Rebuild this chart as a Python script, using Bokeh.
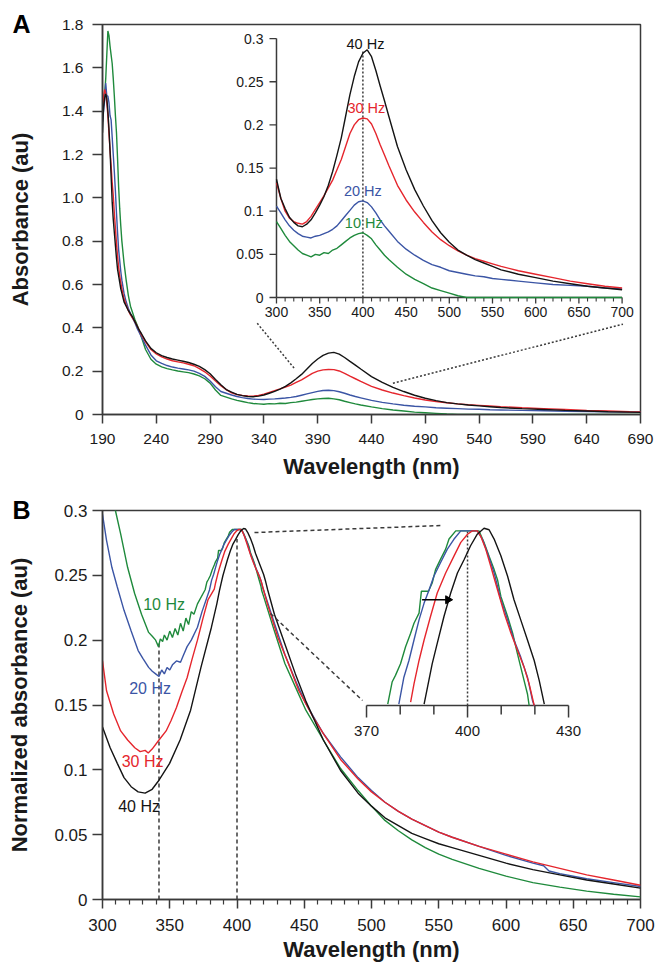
import math
from bokeh.plotting import figure
from bokeh.models import Range1d, FixedTicker, Title
from bokeh.layouts import column
from bokeh.core.properties import value
from bokeh.embed import file_html
from bokeh.resources import INLINE

# ---------------- DATA : panel A (absorbance) ----------------
SERIES = ["10 Hz", "20 Hz", "30 Hz", "40 Hz"]

A_WAVELENGTH = [
    190, 191, 192, 193, 194, 195, 196, 197, 198, 199,
    200, 201, 202, 203, 204, 205, 206, 207, 208, 210,
    212, 214, 216, 218, 220, 222, 224, 226, 230, 235,
    240, 245, 250, 255, 260, 265, 270, 275, 280, 285,
    290, 295, 300, 305, 310, 315, 320, 325, 330, 335,
    340, 345, 350, 355, 360, 365, 370, 375, 380, 385,
    390, 395, 400, 405, 410, 415, 420, 425, 430, 440,
    450, 460, 470, 480, 490, 500, 510, 520, 530, 540,
    550, 560, 580, 600, 620, 640, 660, 680, 700]

A_ABS_10HZ = [
    1.40, 1.44, 1.48, 1.55, 1.66, 1.77, 1.75, 1.70, 1.66, 1.62,
    1.55, 1.47, 1.38, 1.30, 1.18, 1.05, 0.95, 0.87, 0.80, 0.70,
    0.62, 0.55, 0.50, 0.47, 0.44, 0.415, 0.39, 0.36, 0.30, 0.255,
    0.232, 0.220, 0.212, 0.206, 0.201, 0.197, 0.193, 0.187, 0.178, 0.165,
    0.145, 0.113, 0.088, 0.080, 0.072, 0.065, 0.060, 0.055, 0.051, 0.049,
    0.047, 0.050, 0.049, 0.052, 0.051, 0.055, 0.057, 0.061, 0.065, 0.069,
    0.072, 0.074, 0.075, 0.072, 0.068, 0.061, 0.055, 0.049, 0.044, 0.035,
    0.027, 0.021, 0.016, 0.011, 0.008, 0.005, 0.002, 0.000, 0.000, 0.000,
    0.000, 0.000, 0.000, 0.000, 0.000, 0.000, 0.000, 0.000, 0.000]

A_ABS_20HZ = [
    1.35, 1.40, 1.45, 1.53, 1.47, 1.47, 1.44, 1.38, 1.36, 1.28,
    1.20, 1.12, 1.03, 0.93, 0.84, 0.76, 0.71, 0.66, 0.62, 0.56,
    0.52, 0.49, 0.465, 0.445, 0.425, 0.40, 0.38, 0.36, 0.32, 0.275,
    0.248, 0.236, 0.226, 0.219, 0.214, 0.210, 0.206, 0.200, 0.190, 0.176,
    0.155, 0.128, 0.106, 0.098, 0.090, 0.083, 0.078, 0.074, 0.071, 0.070,
    0.069, 0.071, 0.072, 0.074, 0.076, 0.079, 0.083, 0.089, 0.095, 0.101,
    0.107, 0.111, 0.112, 0.110, 0.105, 0.098, 0.090, 0.083, 0.077, 0.065,
    0.056, 0.049, 0.043, 0.038, 0.035, 0.031, 0.029, 0.027, 0.025, 0.024,
    0.022, 0.021, 0.019, 0.017, 0.015, 0.014, 0.013, 0.011, 0.010]

A_ABS_30HZ = [
    1.40, 1.47, 1.50, 1.48, 1.44, 1.38, 1.30, 1.22, 1.15, 1.07,
    1.01, 0.93, 0.86, 0.79, 0.73, 0.68, 0.64, 0.61, 0.58, 0.535,
    0.505, 0.48, 0.46, 0.445, 0.43, 0.41, 0.39, 0.37, 0.335, 0.30,
    0.280, 0.266, 0.256, 0.248, 0.243, 0.238, 0.232, 0.225, 0.212, 0.197,
    0.178, 0.155, 0.133, 0.115, 0.100, 0.092, 0.088, 0.086, 0.085, 0.088,
    0.094, 0.102, 0.110, 0.118, 0.127, 0.136, 0.148, 0.160, 0.175, 0.190,
    0.200, 0.206, 0.208, 0.207, 0.201, 0.190, 0.177, 0.165, 0.153, 0.130,
    0.113, 0.099, 0.087, 0.076, 0.067, 0.060, 0.054, 0.049, 0.045, 0.042,
    0.039, 0.036, 0.031, 0.027, 0.023, 0.019, 0.016, 0.013, 0.011]

A_ABS_40HZ = [
    1.30, 1.42, 1.46, 1.48, 1.46, 1.40, 1.32, 1.22, 1.10, 0.98,
    0.90, 0.84, 0.78, 0.72, 0.67, 0.64, 0.61, 0.58, 0.56, 0.52,
    0.50, 0.48, 0.465, 0.45, 0.43, 0.41, 0.39, 0.375, 0.34, 0.305,
    0.285, 0.272, 0.263, 0.256, 0.251, 0.246, 0.240, 0.232, 0.222, 0.207,
    0.188, 0.162, 0.137, 0.115, 0.103, 0.093, 0.087, 0.083, 0.082, 0.085,
    0.090, 0.098, 0.107, 0.117, 0.130, 0.146, 0.165, 0.185, 0.210, 0.235,
    0.256, 0.273, 0.283, 0.287, 0.279, 0.263, 0.245, 0.228, 0.210, 0.175,
    0.148, 0.125, 0.106, 0.089, 0.075, 0.064, 0.055, 0.049, 0.044, 0.040,
    0.036, 0.032, 0.027, 0.023, 0.019, 0.016, 0.013, 0.011, 0.009]

A_XTICKS = [190, 240, 290, 340, 390, 440, 490, 540, 590, 640, 690]
A_YTICKS = [0, 0.2, 0.4, 0.6, 0.8, 1.0, 1.2, 1.4, 1.6, 1.8]
A_YTICK_LABELS = ["0", "0.2", "0.4", "0.6", "0.8", "1.0", "1.2", "1.4", "1.6", "1.8"]

A_INSET_XTICKS = [300, 350, 400, 450, 500, 550, 600, 650, 700]
A_INSET_XMINOR = [310, 320, 330, 340, 360, 370, 380, 390, 410, 420, 430, 440,
                  460, 470, 480, 490, 510, 520, 530, 540, 560, 570, 580, 590,
                  610, 620, 630, 640, 660, 670, 680, 690]
A_INSET_YTICKS = [0, 0.05, 0.1, 0.15, 0.2, 0.25, 0.3]
A_INSET_YTICK_LABELS = ["0", "0.05", "0.1", "0.15", "0.2", "0.25", "0.3"]

# ---------------- DATA : panel B (normalized absorbance) ----------------
B_WL_10HZ = [
    300, 304, 307, 309.6, 313.5, 318.7, 323.9, 329, 334.3, 337,
    339.5, 341.6, 343, 344.7, 346, 348, 350, 352, 354, 356,
    358, 360, 362, 364, 366, 368, 370.6, 376.3, 377.6, 378.6,
    380.1, 381.6, 383.1, 384.1, 385.6, 386.3, 388.4, 389.5, 390.5, 392.0,
    393.5, 394.5, 396.5, 403.4, 404.9, 406.4, 407.9, 408.9, 409.9, 411.9,
    413.4, 414.8, 416.3, 417.8, 418.3, 420, 427.8, 435.6, 443.4, 451.2,
    464.2, 477, 490, 500, 510, 520, 530, 540, 550, 560,
    580, 600, 620, 640, 660, 680, 700]
B_NA_10HZ = [
    0.345, 0.325, 0.310, 0.300, 0.282, 0.256, 0.236, 0.220, 0.206, 0.203,
    0.200, 0.195, 0.201, 0.199, 0.204, 0.200, 0.207, 0.202, 0.209, 0.204,
    0.213, 0.207, 0.217, 0.212, 0.222, 0.220, 0.228, 0.2389, 0.2448, 0.2466,
    0.2497, 0.2543, 0.2579, 0.2606, 0.2633, 0.2692, 0.2692, 0.2714, 0.2750, 0.2778,
    0.2805, 0.2832, 0.2854, 0.2854, 0.2823, 0.2786, 0.2750, 0.2723, 0.2678, 0.2624,
    0.2579, 0.2525, 0.2470, 0.2416, 0.2385, 0.233, 0.207, 0.182, 0.164, 0.146,
    0.123, 0.101, 0.084, 0.072, 0.061, 0.053, 0.046, 0.040, 0.035, 0.031,
    0.024, 0.018, 0.013, 0.0095, 0.0065, 0.004, 0.002]

B_WL_20HZ = [
    300, 303, 307, 311, 316, 321.3, 326.5, 330, 334.3, 337,
    339.5, 342, 344, 346, 348, 350, 352, 355, 358, 360,
    362.9, 366, 370.6, 374, 379.6, 381.1, 382.6, 384.1, 385.6, 387.1,
    388.6, 390.0, 392.0, 394.0, 396.0, 398.0, 402.9, 404.4, 405.9, 407.9,
    409.9, 411.9, 413.8, 415.8, 417.8, 419.3, 419.8, 427.8, 435.6, 443.4,
    451.2, 464.2, 477, 490, 500, 510, 520, 530, 540, 550,
    560, 580, 600, 620, 628, 632, 640, 660, 680, 700]
B_NA_20HZ = [
    0.297, 0.277, 0.256, 0.241, 0.223, 0.207, 0.192, 0.186, 0.179, 0.176,
    0.174, 0.172, 0.177, 0.174, 0.179, 0.177, 0.181, 0.184, 0.183, 0.188,
    0.195, 0.200, 0.210, 0.222, 0.2389, 0.2461, 0.2506, 0.2561, 0.2615, 0.2660,
    0.2696, 0.2732, 0.2769, 0.2805, 0.2832, 0.2854, 0.2854, 0.2832, 0.2795, 0.2741,
    0.2669, 0.2615, 0.2561, 0.2515, 0.2461, 0.2398, 0.2385, 0.213, 0.189, 0.169,
    0.151, 0.128, 0.110, 0.094, 0.084, 0.075, 0.068, 0.062, 0.057, 0.052,
    0.048, 0.041, 0.034, 0.028, 0.026, 0.022, 0.020, 0.016, 0.013, 0.010]

B_WL_30HZ = [
    300, 303, 308.3, 313.5, 318.7, 324, 328, 331.7, 334, 336.9,
    342, 347.3, 351, 355, 359, 362.9, 366.5, 370.6, 374.5, 378.4,
    383.1, 384.1, 385.6, 387.1, 389.0, 391.0, 393.5, 396.0, 398.0, 400.0,
    401.4, 402.9, 403.9, 405.4, 406.9, 408.9, 410.9, 412.9, 414.8, 416.8,
    418.3, 419.8, 422.6, 430.4, 438.2, 446, 456.4, 464.2, 477, 490,
    500, 510, 520, 530, 540, 550, 560, 580, 600, 620,
    640, 660, 680, 700]
B_NA_30HZ = [
    0.184, 0.161, 0.143, 0.130, 0.123, 0.117, 0.114, 0.115, 0.113, 0.116,
    0.123, 0.130, 0.138, 0.148, 0.160, 0.171, 0.185, 0.200, 0.216, 0.231,
    0.2394, 0.2443, 0.2506, 0.2561, 0.2624, 0.2687, 0.2741, 0.2787, 0.2823, 0.2845,
    0.2854, 0.2854, 0.2840, 0.2805, 0.2759, 0.2696, 0.2633, 0.2579, 0.2534, 0.2488,
    0.2443, 0.2385, 0.228, 0.202, 0.182, 0.161, 0.141, 0.128, 0.108, 0.093,
    0.083, 0.075, 0.068, 0.062, 0.057, 0.052, 0.048, 0.041, 0.035, 0.029,
    0.024, 0.019, 0.015, 0.011]

B_WL_40HZ = [
    300, 305.7, 311, 316, 321.3, 326.5, 331.7, 336.9, 342, 349.9,
    357.7, 365.5, 373.2, 381, 385, 387.1, 388.1, 389.5, 391.0, 393.0,
    395.0, 397.0, 399.0, 400.9, 402.9, 404.9, 406.4, 407.9, 409.9, 411.9,
    413.8, 415.8, 417.8, 419.8, 421.3, 422.8, 427.8, 435.6, 443.4, 451.2,
    464.2, 477, 490, 500, 510, 520, 530, 540, 550, 560,
    580, 600, 620, 640, 660, 680, 700]
B_NA_40HZ = [
    0.133, 0.117, 0.105, 0.094, 0.087, 0.083, 0.082, 0.085, 0.092, 0.105,
    0.123, 0.146, 0.179, 0.210, 0.228, 0.2389, 0.2434, 0.2497, 0.2552, 0.2624,
    0.2687, 0.2741, 0.2777, 0.2814, 0.2845, 0.2861, 0.2857, 0.2832, 0.2787, 0.2732,
    0.2669, 0.2615, 0.2561, 0.2506, 0.2452, 0.2389, 0.220, 0.197, 0.174, 0.153,
    0.123, 0.0995, 0.082, 0.072, 0.063, 0.057, 0.051, 0.047, 0.043, 0.040,
    0.034, 0.028, 0.023, 0.019, 0.015, 0.012, 0.0088]

B_XTICKS = [300, 350, 400, 450, 500, 550, 600, 650, 700]
B_XMINOR = [310, 320, 330, 340, 360, 370, 380, 390, 410, 420, 430, 440,
            460, 470, 480, 490, 510, 520, 530, 540, 560, 570, 580, 590,
            610, 620, 630, 640, 660, 670, 680, 690]
B_YTICKS = [0, 0.05, 0.1, 0.15, 0.2, 0.25, 0.3]
B_YTICK_LABELS = ["0", "0.05", "0.1", "0.15", "0.2", "0.25", "0.3"]

B_INSET_XTICKS = [370, 380, 390, 400, 410, 420, 430]
B_INSET_XLABELS = ["370", "", "", "400", "", "", "430"]

# marker lines / wavelengths quoted in the figure
A_PEAK_WL = 400
B_MIN_WL = 342
B_PEAK_WL = 400

# ---------------- STYLE ----------------
FONT = "Liberation Sans"
AXIS_COLOR = "#3a3a3a"
TEXT_COLOR = "#1a1a1a"
COLORS = {"10 Hz": "#1f8a3c", "20 Hz": "#3b55a5", "30 Hz": "#e5262d", "40 Hz": "#141414"}
LW = 1.4
FIG_W = 665

A_SERIES = {"10 Hz": A_ABS_10HZ, "20 Hz": A_ABS_20HZ, "30 Hz": A_ABS_30HZ, "40 Hz": A_ABS_40HZ}
B_SERIES = {"10 Hz": (B_WL_10HZ, B_NA_10HZ), "20 Hz": (B_WL_20HZ, B_NA_20HZ),
            "30 Hz": (B_WL_30HZ, B_NA_30HZ), "40 Hz": (B_WL_40HZ, B_NA_40HZ)}


def panel_letter(letter):
    # bold panel letter placed left of the frame's top edge
    return Title(text=letter, align="left", vertical_align="middle", offset=-90, standoff=-29,
                 text_font=FONT, text_font_size="25px", text_font_style="bold",
                 text_color="#000000")


def base_figure(xr, yr, height, top, bottom, tick_size, ylab_standoff, xlab_standoff,
                ystandoff, ytick_out):
    p = figure(width=FIG_W, height=height, x_range=xr, y_range=yr,
               output_backend="svg", toolbar_location=None,
               min_border_left=102, min_border_right=25,
               min_border_top=top, min_border_bottom=bottom)
    p.xgrid.visible = False
    p.ygrid.visible = False
    p.outline_line_color = AXIS_COLOR
    p.outline_line_width = 1.5
    p.background_fill_color = "white"
    p.border_fill_color = "white"
    for ax in (p.xaxis[0], p.yaxis[0]):
        ax.axis_line_color = AXIS_COLOR
        ax.axis_line_width = 1.5
        ax.major_tick_line_color = AXIS_COLOR
        ax.major_tick_line_width = 1.5
        ax.minor_tick_line_color = AXIS_COLOR
        ax.minor_tick_line_width = 1.2
        ax.major_tick_in = 0
        ax.major_tick_out = 9
        ax.minor_tick_in = 0
        ax.minor_tick_out = 5
        ax.major_label_text_font = FONT
        ax.major_label_text_font_size = tick_size
        ax.major_label_text_color = TEXT_COLOR
        ax.axis_label_text_font = FONT
        ax.axis_label_text_font_style = "bold"
        ax.axis_label_text_font_size = "22px"
        ax.axis_label_text_color = TEXT_COLOR
    p.yaxis[0].major_tick_out = ytick_out
    p.xaxis[0].major_label_standoff = 10
    p.yaxis[0].major_label_standoff = ystandoff
    p.xaxis[0].axis_label_standoff = xlab_standoff
    p.yaxis[0].axis_label_standoff = ylab_standoff
    return p


def text_kw(size, color=TEXT_COLOR, align="center", baseline="middle"):
    return dict(text_font=value(FONT), text_font_size=value(size), text_color=color,
                text_align=align, text_baseline=baseline)


# ================= PANEL A =================
pA = base_figure(Range1d(190, 690), Range1d(0, 1.8), 488, 24, 74, "15.5px", 26, 7, 9, 10)
pA.title = panel_letter("A")
pA.xaxis[0].ticker = FixedTicker(ticks=A_XTICKS)
pA.xaxis[0].minor_tick_line_color = None
pA.yaxis[0].ticker = FixedTicker(ticks=A_YTICKS)
pA.yaxis[0].minor_tick_line_color = None
pA.yaxis[0].major_label_overrides = {t: l for t, l in zip(A_YTICKS, A_YTICK_LABELS)}
pA.xaxis[0].axis_label = "Wavelength (nm)"
pA.yaxis[0].axis_label = "Absorbance (au)"

for name in SERIES:
    pA.line(A_WAVELENGTH, A_SERIES[name], line_color=COLORS[name], line_width=LW)

# zoom guide lines (main-axis coordinates)
pA.line([333.8, 368.4], [0.421, 0.212], line_color=AXIS_COLOR, line_width=1.5, line_dash="2 2")
pA.line([459.9, 673.7], [0.1445, 0.417], line_color=AXIS_COLOR, line_width=1.5, line_dash="2 2")

# inset A : its own scales mapped into the main frame
insA = pA.subplot(x_source=Range1d(300, 700), y_source=Range1d(0, 0.3),
                  x_target=Range1d(351.7, 672.9), y_target=Range1d(0.540, 1.735))
insA.line([300, 700], [0, 0], line_color=AXIS_COLOR, line_width=1.5)
insA.line([300, 300], [0, 0.3], line_color=AXIS_COLOR, line_width=1.5)
insA.ray(x=A_INSET_XTICKS, y=[0] * len(A_INSET_XTICKS), length=6, angle=-math.pi / 2,
         length_units="screen", line_color=AXIS_COLOR, line_width=1.3)
insA.ray(x=A_INSET_XMINOR, y=[0] * len(A_INSET_XMINOR), length=4, angle=-math.pi / 2,
         length_units="screen", line_color=AXIS_COLOR, line_width=1.1)
insA.ray(x=[300] * len(A_INSET_YTICKS), y=A_INSET_YTICKS, length=7, angle=math.pi,
         length_units="screen", line_color=AXIS_COLOR, line_width=1.3)
insA.text(x=A_INSET_XTICKS, y=[0] * len(A_INSET_XTICKS), text=[str(t) for t in A_INSET_XTICKS],
          y_offset=9, **text_kw("14px", baseline="top"))
insA.text(x=[300] * len(A_INSET_YTICKS), y=A_INSET_YTICKS, text=A_INSET_YTICK_LABELS,
          x_offset=-13, **text_kw("14px", align="right"))
insA.line([A_PEAK_WL, A_PEAK_WL], [0, 0.286], line_color=AXIS_COLOR, line_width=1.5, line_dash="2 2")
for name in SERIES:
    xs = [w for w in A_WAVELENGTH if w >= 300]
    ys = [v for w, v in zip(A_WAVELENGTH, A_SERIES[name]) if w >= 300]
    insA.line(xs, ys, line_color=COLORS[name], line_width=LW)
A_LABEL_POS = {"40 Hz": (403, 0.294), "30 Hz": (404, 0.219), "20 Hz": (400, 0.123), "10 Hz": (401, 0.086)}
for name in SERIES:
    x, y = A_LABEL_POS[name]
    insA.text(x=[x], y=[y], text=[name], **text_kw("14.5px", color=COLORS[name]))

# ================= PANEL B =================
pB = base_figure(Range1d(300, 700), Range1d(0, 0.3), 484, 22, 73, "17px", 19, 3, 5, 10)
pB.title = panel_letter("B")
pB.xaxis[0].ticker = FixedTicker(ticks=B_XTICKS, minor_ticks=B_XMINOR)
pB.yaxis[0].ticker = FixedTicker(ticks=B_YTICKS)
pB.yaxis[0].minor_tick_line_color = None
pB.yaxis[0].major_label_overrides = {t: l for t, l in zip(B_YTICKS, B_YTICK_LABELS)}
pB.xaxis[0].axis_label = "Wavelength (nm)"
pB.yaxis[0].axis_label = "Normalized absorbance (au)"

pB.line([B_MIN_WL, B_MIN_WL], [0, 0.199], line_color=AXIS_COLOR, line_width=1.5, line_dash="4 3")
pB.line([B_PEAK_WL, B_PEAK_WL], [0, 0.278], line_color=AXIS_COLOR, line_width=1.5, line_dash="4 3")
for name in SERIES:
    wl, na = B_SERIES[name]
    pB.line(wl, na, line_color=COLORS[name], line_width=LW)

pB.line([413.0, 551.3], [0.283, 0.2884], line_color=AXIS_COLOR, line_width=1.5, line_dash="4 3")
pB.line([424.9, 493.3], [0.2206, 0.1535], line_color=AXIS_COLOR, line_width=1.5, line_dash="4 3")

B_LABEL_POS = {"10 Hz": (345.8, 0.2274), "20 Hz": (335.4, 0.163), "30 Hz": (329.8, 0.1064), "40 Hz": (327.2, 0.0716)}
for name in SERIES:
    x, y = B_LABEL_POS[name]
    pB.text(x=[x], y=[y], text=[name], **text_kw("16px", color=COLORS[name]))

INSET_B_YMIN = 0.2385
insB = pB.subplot(x_source=Range1d(370, 430), y_source=Range1d(INSET_B_YMIN, 0.2861),
                  x_target=Range1d(496.3, 646.5), y_target=Range1d(0.1496, 0.2863))
insB.line([370, 430], [INSET_B_YMIN, INSET_B_YMIN], line_color=AXIS_COLOR, line_width=1.5)
long_t = [t for t, l in zip(B_INSET_XTICKS, B_INSET_XLABELS) if l]
short_t = [t for t, l in zip(B_INSET_XTICKS, B_INSET_XLABELS) if not l]
insB.ray(x=long_t, y=[INSET_B_YMIN] * len(long_t), length=12, angle=-math.pi / 2,
         length_units="screen", line_color=AXIS_COLOR, line_width=1.5)
insB.ray(x=short_t, y=[INSET_B_YMIN] * len(short_t), length=9, angle=-math.pi / 2,
         length_units="screen", line_color=AXIS_COLOR, line_width=1.5)
insB.text(x=long_t, y=[INSET_B_YMIN] * len(long_t), text=[l for l in B_INSET_XLABELS if l],
          y_offset=20, **text_kw("15px", baseline="top"))
insB.line([B_PEAK_WL, B_PEAK_WL], [INSET_B_YMIN, 0.2854], line_color=AXIS_COLOR,
          line_width=1.5, line_dash="2 2")
for name in SERIES:
    wl, na = B_SERIES[name]
    pts = [(w, v) for w, v in zip(wl, na) if 370 <= w <= 430 and v >= INSET_B_YMIN]
    insB.line([w for w, _ in pts], [v for _, v in pts], line_color=COLORS[name], line_width=LW)
# shift arrow
insB.line([386.5, 394.0], [0.2669, 0.2669], line_color="#000000", line_width=1.6)
insB.scatter(x=[394.2], y=[0.2669], marker="triangle", size=8, angle=-math.pi / 2,
             fill_color="#000000", line_color="#000000")

layout = column(pA, pB, spacing=0)
open("out.html", "w").write(file_html(layout, INLINE))
